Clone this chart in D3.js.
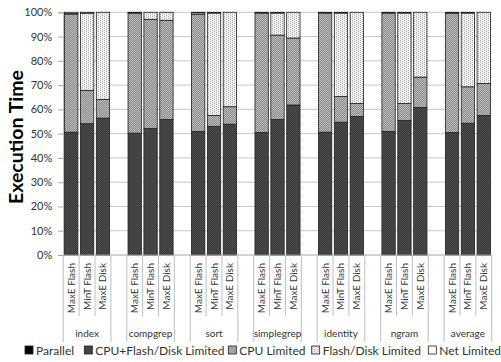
<!DOCTYPE html>
<html>
<head>
<meta charset="utf-8">
<script src="https://cdn.jsdelivr.net/npm/d3@7"></script>
<style>
  html, body { margin: 0; padding: 0; background: #fff; }
  svg { display: block; font-family: Lato, "Open Sans", sans-serif; }
</style>
</head>
<body>
<svg id="chart" width="501" height="362"></svg>
<script>
// Workloads (outer level) and system configurations (inner level)
const groups = ["index", "compgrep", "sort", "simplegrep", "identity", "ngram", "average"];
const configs = ["MaxE Flash", "MinT Flash", "MaxE Disk"];
const seriesNames = ["Parallel", "CPU+Flash/Disk Limited", "CPU Limited", "Flash/Disk Limited", "Net Limited"];
const yTicks = [0, 10, 20, 30, 40, 50, 60, 70, 80, 90, 100];

// Share of execution time (%), one value per bar, groups in order, configs in order
const parallel = [0.3, 0.1, 0.1, 0.3, 0.1, 0.3, 0.3, 0.1, 0.1, 0.3, 0.1, 0.1, 0.3, 0.1, 0.1, 0.3, 0.1, 0.1, 0.3, 0.1, 0.1];
const cpuFlashDisk = [50.3, 54.0, 56.3, 49.9, 52.0, 55.5, 50.6, 52.9, 53.8, 50.2, 55.7, 61.7, 50.3, 54.6, 57.0, 50.6, 55.3, 60.7, 50.2, 54.2, 57.4];
const cpuLimited = [48.7, 13.7, 7.7, 49.5, 45.0, 40.9, 48.3, 4.5, 7.2, 49.2, 34.8, 27.6, 49.1, 10.6, 5.3, 48.8, 7.0, 12.5, 49.2, 15.0, 13.2];
const flashDisk = [0.2, 31.8, 35.9, 0.1, 2.9, 3.3, 0.6, 42.2, 38.9, 0.0, 9.1, 10.6, 0.0, 34.4, 37.6, 0.0, 37.3, 26.7, 0.1, 30.4, 29.3];
const netLimited = [0.5, 0.4, 0.0, 0.2, 0.0, 0.0, 0.2, 0.3, 0.0, 0.3, 0.3, 0.0, 0.3, 0.3, 0.0, 0.3, 0.3, 0.0, 0.2, 0.3, 0.0];

const seriesValues = [parallel, cpuFlashDisk, cpuLimited, flashDisk, netLimited];

const svg = d3.select("#chart");
const plotLeft = 63.3, plotRight = 491.7, plotTop = 12.3, plotBottom = 255;

// Category slots: three bars per workload, an empty slot between workloads
const slots = [];
groups.forEach((g, gi) => {
  configs.forEach(c => slots.push(g + "|" + c));
  if (gi < groups.length - 1) slots.push("gap" + gi);
});

const rows = [];
groups.forEach((g, gi) => configs.forEach((c, ci) => {
  const row = { key: g + "|" + c, group: g, config: c };
  seriesNames.forEach((s, si) => row[s] = seriesValues[si][gi * configs.length + ci]);
  rows.push(row);
}));

const x = d3.scaleBand().domain(slots).range([plotLeft, plotRight]).paddingInner(0.16).paddingOuter(0.08);
const y = d3.scaleLinear().domain([0, 100]).range([plotBottom, plotTop]);
const stack = d3.stack().keys(seriesNames)(rows);

// Fill patterns
const defs = svg.append("defs");
function checker(id, a, b) {
  const p = defs.append("pattern").attr("id", id).attr("width", 2).attr("height", 2)
    .attr("patternUnits", "userSpaceOnUse");
  p.append("rect").attr("width", 2).attr("height", 2).attr("fill", a);
  p.append("rect").attr("width", 1).attr("height", 1).attr("fill", b);
  p.append("rect").attr("x", 1).attr("y", 1).attr("width", 1).attr("height", 1).attr("fill", b);
}
checker("pDark", "#3b3b3b", "#4b4b4b");
checker("pCpu", "#8a8a8a", "#bcbcbc");
(function () {
  const p = defs.append("pattern").attr("id", "pFlash").attr("width", 4).attr("height", 4)
    .attr("patternUnits", "userSpaceOnUse");
  p.append("rect").attr("width", 4).attr("height", 4).attr("fill", "#f4f4f4");
  [[0, 0], [2, 1], [0, 2], [2, 3]].forEach(([px, py]) =>
    p.append("rect").attr("x", px).attr("y", py).attr("width", 1).attr("height", 1).attr("fill", "#a8a8a8"));
})();
const fills = ["#000000", "url(#pDark)", "url(#pCpu)", "url(#pFlash)", "#ffffff"];

// Gridlines
svg.append("g").selectAll("line").data(yTicks.filter(d => d > 0)).join("line")
  .attr("x1", plotLeft).attr("x2", plotRight)
  .attr("y1", d => y(d)).attr("y2", d => y(d))
  .attr("stroke", "#c8c8c8").attr("stroke-width", 1);

// Y axis
const yAxis = svg.append("g").attr("transform", `translate(${plotLeft},0)`)
  .call(d3.axisLeft(y).tickValues(yTicks).tickFormat(d => d + "%").tickSize(5).tickPadding(6));
yAxis.select(".domain").attr("stroke", "#a6a6a6");
yAxis.selectAll(".tick line").attr("stroke", "#a6a6a6");
yAxis.selectAll("text").attr("font-size", 11).attr("fill", "#333").attr("font-family", "Lato, sans-serif");

// Stacked bars
svg.append("g").selectAll("g").data(stack).join("g")
  .attr("fill", (d, i) => fills[i])
  .selectAll("rect").data(d => d).join("rect")
  .attr("x", d => x(d.data.key))
  .attr("width", x.bandwidth())
  .attr("y", d => y(d[1]))
  .attr("height", d => Math.max(0, y(d[0]) - y(d[1])))
  .attr("stroke", "#1e1e1e").attr("stroke-width", 0.8);

// Category axis: baseline, separators, labels
const axisG = svg.append("g").attr("stroke", "#bfbfbf").attr("stroke-width", 1);
axisG.append("line").attr("x1", plotLeft).attr("x2", plotRight).attr("y1", plotBottom).attr("y2", plotBottom).attr("stroke", "#a6a6a6");
const step = x.step();
const bounds = d3.range(slots.length + 1).map(i => plotLeft + i * step);
axisG.selectAll("line.sep").data(bounds).join("line").attr("class", "sep")
  .attr("x1", d => d).attr("x2", d => d)
  .attr("y1", plotBottom)
  .attr("y2", (d, i) => {
    const isOuter = i === 0 || i === slots.length || slots[i - 1].startsWith("gap") || slots[i].startsWith("gap");
    return isOuter ? 342 : 316;
  });

svg.append("g").selectAll("text").data(rows).join("text")
  .attr("transform", d => `translate(${x(d.key) + x.bandwidth() / 2 + 3.5},263) rotate(-90)`)
  .attr("text-anchor", "end")
  .attr("font-size", 10).attr("fill", "#333")
  .text(d => d.config);

svg.append("g").selectAll("text").data(groups).join("text")
  .attr("x", g => (x(g + "|" + configs[0]) + x(g + "|" + configs[2]) + x.bandwidth()) / 2)
  .attr("y", 337)
  .attr("text-anchor", "middle")
  .attr("font-size", 10).attr("fill", "#333")
  .text(g => g);

// Y axis title
svg.append("text")
  .attr("transform", "translate(23,137) rotate(-90)")
  .attr("text-anchor", "middle")
  .attr("font-size", 19.5).attr("font-weight", "bold").attr("fill", "#000")
  .text("Execution Time");

// Legend
const legendX = [25, 84.3, 228.3, 311.7, 428.3];
const legend = svg.append("g").selectAll("g").data(seriesNames).join("g")
  .attr("transform", (d, i) => `translate(${legendX[i]},346)`);
legend.append("rect").attr("width", 8).attr("height", 8)
  .attr("fill", (d, i) => fills[i]).attr("stroke", "#1e1e1e").attr("stroke-width", 0.8);
legend.append("text").attr("x", 11).attr("y", 8.5)
  .attr("font-size", 12).attr("fill", "#333")
  .text(d => d);
</script>
</body>
</html>
